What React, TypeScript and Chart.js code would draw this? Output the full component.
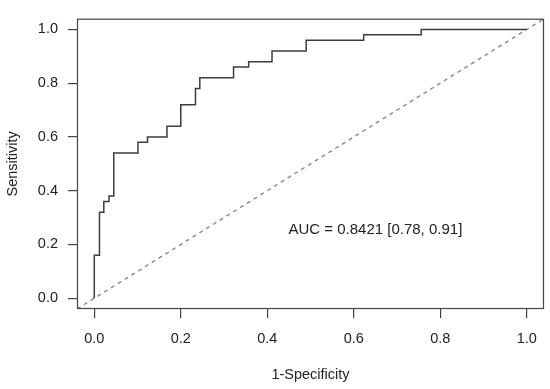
import React, { useEffect, useRef } from "react";
import { Chart, registerables } from "chart.js";

Chart.register(...registerables);

// ROC curve coordinates (1-specificity, sensitivity); stepped: vertical rise then horizontal run
const FPR = [0, 0.012, 0.022, 0.034, 0.045, 0.101, 0.123, 0.168, 0.2, 0.234, 0.244, 0.322, 0.357, 0.411, 0.49, 0.623, 0.756, 1.0];
const TPR = [0, 0.16, 0.32, 0.36, 0.38, 0.54, 0.58, 0.6, 0.64, 0.72, 0.78, 0.82, 0.86, 0.88, 0.92, 0.96, 0.98, 1.0];
const AXIS_MIN = -0.04;
const AXIS_MAX = 1.04;
const TICKS = [0, 0.2, 0.4, 0.6, 0.8, 1.0];
const X_TITLE = "1-Specificity";
const Y_TITLE = "Sensitivity";
const AUC_LABEL = "AUC = 0.8421 [0.78, 0.91]";
const AUC_POS = { x: 0.65, y: 0.255 };

const FONT = "'Liberation Sans', Arial, Helvetica, sans-serif";
const TEXT = "#222222";
const AXIS = "#444444";

export default function App() {
  const ref = useRef<HTMLCanvasElement | null>(null);

  useEffect(() => {
    if (!ref.current) return;
    const boxPlugin = {
      id: "boxAndText",
      afterDatasetsDraw(chart: any) {
        const { ctx, chartArea, scales } = chart;
        ctx.save();
        ctx.strokeStyle = AXIS;
        ctx.lineWidth = 1.2;
        ctx.strokeRect(chartArea.left + 0.5, chartArea.top + 0.5, chartArea.right - chartArea.left - 1, chartArea.bottom - chartArea.top - 1);
        ctx.fillStyle = TEXT;
        ctx.font = `15px ${FONT}`;
        ctx.textAlign = "center";
        ctx.textBaseline = "middle";
        ctx.fillText(AUC_LABEL, scales.x.getPixelForValue(AUC_POS.x), scales.y.getPixelForValue(AUC_POS.y));
        ctx.restore();
      },
    };

    const setTicks = (scale: any) => {
      scale.ticks = TICKS.map((v) => ({ value: v }));
    };

    const chart = new Chart(ref.current, {
      type: "line",
      data: {
        datasets: [
          {
            data: FPR.map((x, i) => ({ x, y: TPR[i] })),
            stepped: "after",
            borderColor: "#3c3c3c",
            borderWidth: 1.5,
            pointRadius: 0,
            fill: false,
            order: 0,
          },
          {
            data: [
              { x: AXIS_MIN, y: AXIS_MIN },
              { x: AXIS_MAX, y: AXIS_MAX },
            ],
            borderColor: "#8a8a8a",
            borderWidth: 1.4,
            borderDash: [4, 4],
            pointRadius: 0,
            fill: false,
            order: 1,
          },
        ],
      },
      options: {
        responsive: false,
        animation: false,
        devicePixelRatio: 1,
        layout: { padding: { top: 11, right: 6, left: 0, bottom: 0 } },
        plugins: { legend: { display: false }, tooltip: { enabled: false } },
        scales: {
          x: {
            type: "linear",
            min: AXIS_MIN,
            max: AXIS_MAX,
            afterBuildTicks: setTicks,
            afterFit: (s: any) => {
              s.height = 80;
            },
            border: { display: false },
            grid: { drawOnChartArea: false, drawTicks: true, tickLength: 9, tickColor: AXIS, lineWidth: 1.2 },
            ticks: {
              padding: 12,
              color: TEXT,
              font: { family: FONT, size: 14.5 },
              maxRotation: 0,
              callback: (v: any) => Number(v).toFixed(1),
            },
            title: { display: true, text: X_TITLE, color: TEXT, font: { family: FONT, size: 14.5 }, padding: { top: 0, bottom: 5 } },
          },
          y: {
            type: "linear",
            min: AXIS_MIN,
            max: AXIS_MAX,
            afterBuildTicks: setTicks,
            afterFit: (s: any) => {
              s.width = 77;
            },
            border: { display: false },
            grid: { drawOnChartArea: false, drawTicks: true, tickLength: 9, tickColor: AXIS, lineWidth: 1.2 },
            ticks: {
              padding: 10,
              color: TEXT,
              font: { family: FONT, size: 14.5 },
              callback: (v: any) => Number(v).toFixed(1),
            },
            title: { display: true, text: Y_TITLE, color: TEXT, font: { family: FONT, size: 14.5 }, padding: { top: 4, bottom: 0 } },
          },
        },
      },
      plugins: [boxPlugin],
    } as any);
    return () => chart.destroy();
  }, []);

  return (
    <div style={{ position: "absolute", left: 0, top: 0, width: 550, height: 389, background: "#fff" }}>
      <canvas ref={ref} width={550} height={389} />
    </div>
  );
}
